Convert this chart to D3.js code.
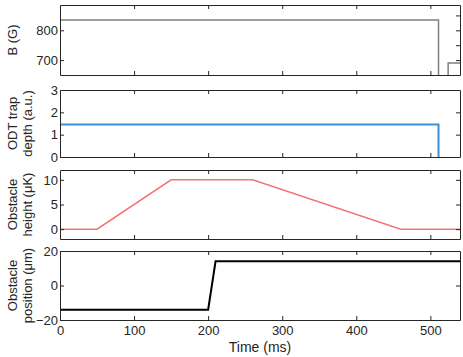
<!DOCTYPE html>
<html>
<head>
<meta charset="utf-8">
<script src="https://cdn.jsdelivr.net/npm/d3@7"></script>
<style>
  body { margin: 0; background: #fff; }
  text { font-family: "Liberation Sans", Arial, sans-serif; fill: #262626; }
</style>
</head>
<body>
<div id="vis"></div>
<script>
const WIDTH = 463, HEIGHT = 357;
const LEFT = 60, RIGHT = 460;

// shared time axis
const TIME_DOMAIN = [0, 540];
const TIME_TICKS = [0, 100, 200, 300, 400, 500];

// panel 1: magnetic field
const B_TIME = [0, 511, 511, 524, 524, 540];
const B_VALUE = [835, 835, 600, 600, 690, 690];
const B_TICKS = [700, 800];
const B_RIGHT_TICKS = [700, 750, 800, 850];

// panel 2: ODT trap depth
const ODT_TIME = [0, 511, 511];
const ODT_VALUE = [1.45, 1.45, 0];
const ODT_TICKS = [0, 1, 2, 3];

// panel 3: obstacle height
const HEIGHT_TIME = [0, 50, 150, 260, 460, 540];
const HEIGHT_VALUE = [0, 0, 10, 10, 0, 0];
const HEIGHT_TICKS = [0, 5, 10];

// panel 4: obstacle position
const POS_TIME = [0, 200, 210, 540];
const POS_VALUE = [-14, -14, 14, 14];
const POS_TICKS = [-20, 0, 20];

const panels = [
  {top: 5,   bottom: 75,  domain: [650, 885], ticks: B_TICKS, rticks: B_RIGHT_TICKS,
   t: B_TIME, v: B_VALUE, color: "#808080", width: 1.5, label: ["B (G)"]},
  {top: 90,  bottom: 157, domain: [0, 3], ticks: ODT_TICKS, rticks: ODT_TICKS,
   t: ODT_TIME, v: ODT_VALUE, color: "#3d8fd9", width: 2, label: ["ODT trap", "depth (a.u.)"]},
  {top: 170, bottom: 239, domain: [-2, 12], ticks: HEIGHT_TICKS, rticks: HEIGHT_TICKS,
   t: HEIGHT_TIME, v: HEIGHT_VALUE, color: "#f27474", width: 1.5, label: ["Obstacle", "height (μK)"]},
  {top: 251, bottom: 320, domain: [-20, 20], ticks: POS_TICKS, rticks: POS_TICKS,
   t: POS_TIME, v: POS_VALUE, color: "#000000", width: 2, label: ["Obstacle", "position (μm)"]}
];

const svg = d3.select("#vis").append("svg")
  .attr("width", WIDTH).attr("height", HEIGHT);

const X = d3.scaleLinear().domain(TIME_DOMAIN).range([LEFT, RIGHT]);

panels.forEach((p, i) => {
  const Y = d3.scaleLinear().domain(p.domain).range([p.bottom, p.top]);
  const g = svg.append("g");

  g.append("clipPath").attr("id", "clip" + i)
    .append("rect")
      .attr("x", LEFT).attr("y", p.top)
      .attr("width", RIGHT - LEFT).attr("height", p.bottom - p.top);

  const line = d3.line().x(d => X(d[0])).y(d => Y(d[1]));
  g.append("path")
    .datum(p.t.map((t, k) => [t, p.v[k]]))
    .attr("d", line)
    .attr("fill", "none")
    .attr("stroke", p.color)
    .attr("stroke-width", p.width)
    .attr("clip-path", "url(#clip" + i + ")");

  const last = i === panels.length - 1;

  // bottom axis (inward ticks)
  const bx = g.append("g")
    .attr("transform", "translate(0," + p.bottom + ")")
    .call(d3.axisBottom(X).tickValues(TIME_TICKS).tickSizeInner(-4).tickSizeOuter(0)
      .tickPadding(8).tickFormat(last ? d3.format("d") : ""));
  // top axis
  const tx = g.append("g")
    .attr("transform", "translate(0," + p.top + ")")
    .call(d3.axisTop(X).tickValues(TIME_TICKS).tickSizeInner(-4).tickSizeOuter(0).tickFormat(""));
  // left axis
  const ly = g.append("g")
    .attr("transform", "translate(" + LEFT + ",0)")
    .call(d3.axisLeft(Y).tickValues(p.ticks).tickSizeInner(-4).tickSizeOuter(0)
      .tickPadding(2).tickFormat(d3.format("d")));
  // right axis
  const ry = g.append("g")
    .attr("transform", "translate(" + RIGHT + ",0)")
    .call(d3.axisRight(Y).tickValues(p.rticks).tickSizeInner(-4).tickSizeOuter(0).tickFormat(""));

  [bx, tx, ly, ry].forEach(a => {
    a.selectAll(".domain").attr("stroke", "#262626").attr("stroke-width", 1);
    a.selectAll(".tick line").attr("stroke", "#262626");
    a.selectAll("text").attr("font-size", 13).attr("fill", "#262626")
      .attr("font-family", "Liberation Sans, Arial, sans-serif");
  });
  // hide end ticks lying on the box corners
  [bx, tx].forEach(a => a.selectAll(".tick line").filter(d => d === 0).remove());
  bx.selectAll("text").attr("dy", "0.5em");

  // y label
  const cy = (p.top + p.bottom) / 2;
  const n = p.label.length;
  p.label.forEach((s, k) => {
    const x = n === 1 ? 13 : 13 + k * 15;
    svg.append("text")
      .attr("transform", "translate(" + (x + 4) + "," + cy + ") rotate(-90)")
      .attr("text-anchor", "middle")
      .attr("font-size", 13)
      .text(s);
  });
});

svg.append("text")
  .attr("x", (LEFT + RIGHT) / 2).attr("y", 352)
  .attr("text-anchor", "middle")
  .attr("font-size", 14)
  .text("Time (ms)");
</script>
</body>
</html>
